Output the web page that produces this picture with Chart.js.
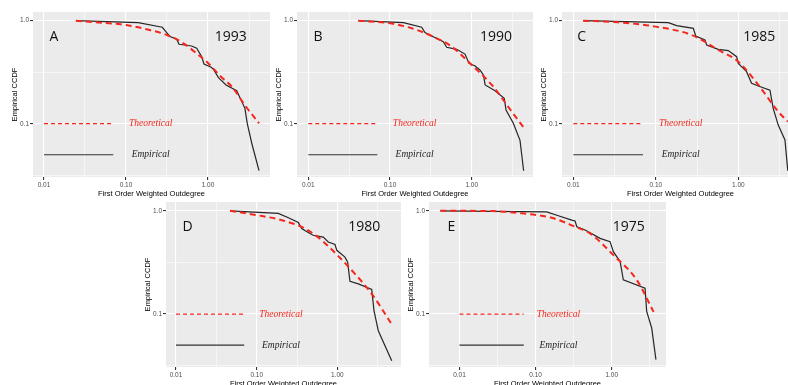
<!DOCTYPE html>
<html>
<head>
<meta charset="utf-8">
<script src="https://cdn.jsdelivr.net/npm/chart.js@4.4.0/dist/chart.umd.min.js"></script>
<style>
  html, body { margin: 0; padding: 0; background: #fff; width: 788px; height: 385px; overflow: hidden; position: relative; }
  canvas { position: absolute; }
</style>
</head>
<body>
<canvas id="pA" width="272" height="199" style="left:0px;top:0px"></canvas>
<canvas id="pB" width="271" height="199" style="left:264px;top:0px"></canvas>
<canvas id="pC" width="272" height="199" style="left:529px;top:0px"></canvas>
<canvas id="pD" width="270" height="199" style="left:133px;top:190px"></canvas>
<canvas id="pE" width="272" height="199" style="left:396px;top:190px"></canvas>
<script>
// A - 1993
const a_empX = [0.0245, 0.141, 0.277, 0.344, 0.415, 0.443, 0.632, 0.728, 0.838, 0.893, 1.08, 1.16, 1.34, 1.66, 2.24, 2.82, 3.01, 3.41, 4.19];
const a_empY = [1.0, 0.957, 0.863, 0.70, 0.66, 0.59, 0.568, 0.54, 0.447, 0.38, 0.355, 0.34, 0.28, 0.238, 0.209, 0.141, 0.101, 0.065, 0.035];
const a_thX = [0.0245, 0.05, 0.1, 0.178, 0.316, 0.501, 0.794, 1.0, 1.41, 2.0, 2.82, 4.19];
const a_thY = [1.0, 0.955, 0.908, 0.824, 0.726, 0.603, 0.454, 0.389, 0.29, 0.224, 0.151, 0.101];

// B - 1990
const b_empX = [0.041, 0.146, 0.244, 0.268, 0.324, 0.449, 0.494, 0.655, 0.828, 0.927, 1.10, 1.26, 1.39, 1.46, 1.93, 2.5, 2.63, 3.23, 3.9, 4.32];
const b_empY = [1.0, 0.957, 0.863, 0.766, 0.71, 0.625, 0.551, 0.527, 0.474, 0.385, 0.363, 0.332, 0.297, 0.238, 0.209, 0.176, 0.136, 0.101, 0.069, 0.035];
const b_thX = [0.041, 0.1, 0.185, 0.324, 0.569, 1.0, 1.76, 3.09, 4.32];
const b_thY = [1.0, 0.942, 0.843, 0.71, 0.56, 0.372, 0.238, 0.131, 0.092];

// C - 1985
const c_empX = [0.0132, 0.142, 0.179, 0.285, 0.305, 0.394, 0.414, 0.573, 0.757, 0.955, 1.0, 1.26, 1.45, 1.75, 2.42, 2.65, 3.05, 3.68, 3.98];
const c_empY = [1.0, 0.957, 0.895, 0.843, 0.71, 0.649, 0.581, 0.527, 0.512, 0.447, 0.385, 0.32, 0.247, 0.232, 0.212, 0.141, 0.097, 0.0695, 0.035];
const c_thX = [0.0132, 0.035, 0.1, 0.272, 0.573, 1.0, 1.75, 3.05, 3.98];
const c_thY = [1.0, 0.964, 0.875, 0.726, 0.52, 0.4, 0.238, 0.131, 0.105];

// D - 1980
const d_empX = [0.0467, 0.185, 0.247, 0.328, 0.361, 0.457, 0.501, 0.668, 0.771, 0.933, 0.984, 1.24, 1.34, 1.43, 1.82, 2.66, 2.84, 3.21, 4.71];
const d_empY = [1.0, 0.942, 0.855, 0.771, 0.673, 0.603, 0.579, 0.555, 0.499, 0.471, 0.414, 0.356, 0.318, 0.207, 0.196, 0.173, 0.108, 0.0689, 0.0352];
const d_thX = [0.0467, 0.1, 0.204, 0.397, 0.638, 1.0, 1.65, 2.66, 4.61];
const d_thY = [1.0, 0.908, 0.811, 0.673, 0.519, 0.371, 0.245, 0.157, 0.0818];

// E - 1975
const e_empX = [0.0056, 0.14, 0.199, 0.299, 0.33, 0.348, 0.447, 0.703, 0.951, 1.05, 1.29, 1.42, 2.74, 2.88, 3.35, 3.81];
const e_empY = [1.0, 0.977, 0.895, 0.813, 0.796, 0.701, 0.652, 0.541, 0.502, 0.402, 0.322, 0.214, 0.178, 0.106, 0.0733, 0.0362];
const e_thX = [0.0056, 0.0266, 0.0659, 0.163, 0.33, 0.519, 1.05, 2.13, 3.55];
const e_thY = [1.0, 0.993, 0.944, 0.855, 0.701, 0.605, 0.373, 0.214, 0.105];

// ticks and legend
const xTicks = [0.01, 0.1, 1];
const xTickLabels = ['0.01', '0.10', '1.00'];
const yTicks = [0.1, 1];
const yTickLabels = ['0.1', '1.0'];
const xMinor = [Math.pow(10, -2.5), Math.pow(10, -1.5), Math.pow(10, -0.5), Math.pow(10, 0.5)];
const yMinor = [Math.pow(10, -1.5), Math.pow(10, -0.5)];
const legendX = [0.01, 0.07];
const legendTheoY = 0.1;
const legendEmpY = 0.05;
const legendTextX = 0.2;

const RED = '#f5271d';
const DARK = '#262626';

const panels = [
  { id: 'pA', letter: 'A', year: '1993', xr: [-2.134, 0.756], yr: [-1.517, 0.084], letterX: 0.0132, yearX: 1.9,
    empX: a_empX, empY: a_empY, thX: a_thX, thY: a_thY },
  { id: 'pB', letter: 'B', year: '1990', xr: [-2.138, 0.750], yr: [-1.517, 0.084], letterX: 0.0132, yearX: 1.98,
    empX: b_empX, empY: b_empY, thX: b_thX, thY: b_thY },
  { id: 'pC', letter: 'C', year: '1985', xr: [-2.137, 0.736], yr: [-1.517, 0.084], letterX: 0.0126, yearX: 1.8,
    empX: c_empX, empY: c_empY, thX: c_thX, thY: c_thY },
  { id: 'pD', letter: 'D', year: '1980', xr: [-2.124, 0.788], yr: [-1.513, 0.085], letterX: 0.0139, yearX: 2.15,
    empX: d_empX, empY: d_empY, thX: d_thX, thY: d_thY },
  { id: 'pE', letter: 'E', year: '1975', xr: [-2.40, 0.713], yr: [-1.513, 0.085], letterX: 0.00785, yearX: 1.67,
    empX: e_empX, empY: e_empY, thX: e_thX, thY: e_thY }
];

function pts(xs, ys) { return xs.map((x, i) => ({ x: x, y: ys[i] })); }

function isIn(list, v) { return list.some(t => Math.abs(t - v) / t < 1e-6); }

function axisOpts(kind, range, majors, labels, minors) {
  const lo = Math.pow(10, range[0]), hi = Math.pow(10, range[1]);
  const horiz = kind === 'x';
  return {
    type: 'logarithmic',
    position: horiz ? 'bottom' : 'left',
    min: lo,
    max: hi,
    afterBuildTicks: s => {
      const all = majors.concat(minors).filter(v => v >= lo && v <= hi).sort((a, b) => a - b);
      s.ticks = all.map(v => ({ value: v }));
    },
    afterFit: s => { if (horiz) s.height = 22; else s.width = 33; },
    border: { display: false },
    grid: {
      color: '#ffffff',
      lineWidth: c => (c.tick && isIn(majors, c.tick.value)) ? 1.1 : 0.55,
      tickColor: c => (c.tick && isIn(majors, c.tick.value)) ? '#333333' : 'rgba(0,0,0,0)',
      tickLength: 3
    },
    ticks: {
      autoSkip: false,
      maxRotation: 0,
      padding: 1,
      color: '#4d4d4d',
      font: { family: '"Liberation Sans", Arial, sans-serif', size: 6.5 },
      callback: v => { const i = majors.findIndex(t => Math.abs(t - v) / t < 1e-6); return i >= 0 ? labels[i] : ''; }
    },
    title: {
      display: true,
      text: horiz ? 'First Order Weighted Outdegree' : 'Empirical CCDF',
      color: '#000',
      font: { family: '"Liberation Sans", Arial, sans-serif', size: 7.5 },
      padding: horiz ? { top: 0, bottom: 1 } : { top: 10, bottom: 0 }
    }
  };
}

function panelPlugin(p) {
  return {
    id: 'panelDeco',
    beforeDraw(chart) {
      const a = chart.chartArea, ctx = chart.ctx;
      ctx.save();
      ctx.fillStyle = '#ebebeb';
      ctx.fillRect(a.left, a.top, a.right - a.left, a.bottom - a.top);
      ctx.restore();
    },
    afterDatasetsDraw(chart) {
      const ctx = chart.ctx, xs = chart.scales.x, ys = chart.scales.y;
      ctx.save();
      ctx.textAlign = 'center';
      ctx.textBaseline = 'middle';
      ctx.fillStyle = '#111';
      ctx.font = '14px "Open Sans", "Liberation Sans", sans-serif';
      const ly = ys.getPixelForValue(0.695);
      ctx.fillText(p.letter, xs.getPixelForValue(p.letterX), ly);
      ctx.fillText(p.year, xs.getPixelForValue(p.yearX), ly);
      ctx.font = 'italic 9.5px "Liberation Serif", "Times New Roman", serif';
      ctx.fillStyle = RED;
      ctx.fillText('Theoretical', xs.getPixelForValue(legendTextX), ys.getPixelForValue(legendTheoY));
      ctx.fillStyle = '#222';
      ctx.fillText('Empirical', xs.getPixelForValue(legendTextX), ys.getPixelForValue(legendEmpY));
      ctx.restore();
    }
  };
}

panels.forEach(p => {
  const ctx = document.getElementById(p.id).getContext('2d');
  new Chart(ctx, {
    type: 'scatter',
    data: {
      datasets: [
        { data: pts(p.thX, p.thY), showLine: true, borderColor: RED, borderWidth: 2, borderDash: [6, 4], cubicInterpolationMode: 'monotone' },
        { data: pts(legendX, [legendTheoY, legendTheoY]), showLine: true, borderColor: RED, borderWidth: 1.2, borderDash: [4, 3] },
        { data: pts(p.empX, p.empY), showLine: true, borderColor: DARK, borderWidth: 1.2 },
        { data: pts(legendX, [legendEmpY, legendEmpY]), showLine: true, borderColor: '#333', borderWidth: 1.2 }
      ]
    },
    options: {
      responsive: false,
      animation: false,
      devicePixelRatio: 1,
      events: [],
      layout: { padding: { top: 12, right: 2, left: 0, bottom: 0 } },
      elements: { point: { radius: 0, hoverRadius: 0 } },
      plugins: { legend: { display: false }, tooltip: { enabled: false } },
      scales: {
        x: axisOpts('x', p.xr, xTicks, xTickLabels, xMinor),
        y: axisOpts('y', p.yr, yTicks, yTickLabels, yMinor)
      }
    },
    plugins: [panelPlugin(p)]
  });
});
</script>
</body>
</html>
